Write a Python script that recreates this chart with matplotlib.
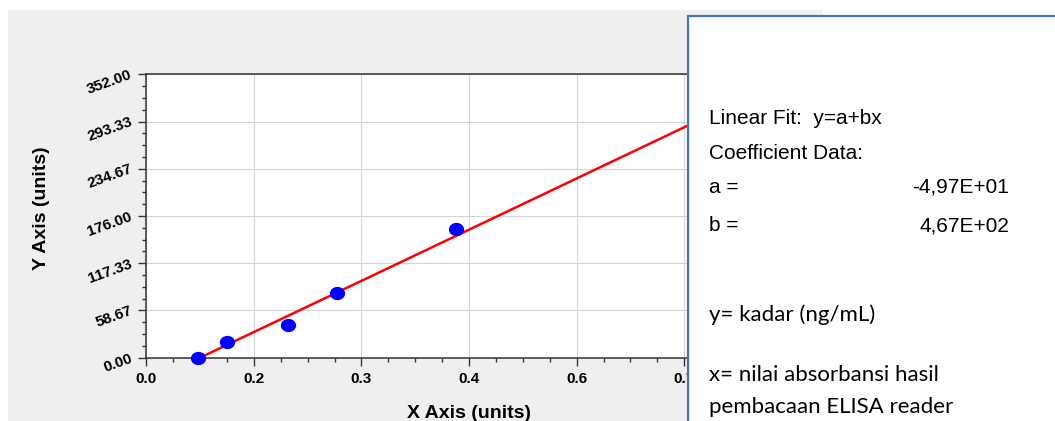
import matplotlib
matplotlib.use("Agg")
import matplotlib.pyplot as plt
import numpy as np
from matplotlib.patches import Rectangle
from matplotlib.path import Path
from matplotlib.transforms import Affine2D
from matplotlib.ticker import FixedLocator, FormatStrFormatter

plt.rcParams["font.family"] = ["Liberation Sans", "DejaVu Sans"]

# data (absorbansi vs kadar standar)
absorbance = [0.104, 0.140, 0.218, 0.280, 0.431]
kadar = [0, 20, 40, 80, 160]
fit_a = -49.7
fit_b = 467.0

x_min, x_step = 0.0384, 0.1362
y_max = 352.0

fit_lines = ["Linear Fit:  y=a+bx", "Coefficient Data:", "a =", "b ="]
fit_values = ["-4,97E+01", "4,67E+02"]
note_lines = ["y= kadar (ng/mL)", "x= nilai absorbansi hasil", "pembacaan ELISA reader"]

W, H = 1055, 421
fig = plt.figure(figsize=(W / 100, H / 100), dpi=100)
fig.patch.set_facecolor("white")


def fx(px):
    return px / W


def fy(py):
    return 1 - py / H


# panel abu-abu di belakang grafik
fig.add_artist(Rectangle((fx(8), 0), fx(822) - fx(8), fy(10), transform=fig.transFigure,
                         facecolor="#efefef", edgecolor="none", zorder=-1))

ax_l, ax_r, ax_t, ax_b = 146.3, 800, 74.3, 357.7
ax = fig.add_axes([fx(ax_l), fy(ax_b), fx(ax_r) - fx(ax_l), fy(ax_t) - fy(ax_b)])
ax.set_facecolor("white")
x_max = x_min + (ax_r - ax_l) / 790
ax.set_xlim(x_min, x_max)
ax.set_ylim(0, y_max)

# garis fit + titik data
xs = np.array([absorbance[0], x_max])
ax.plot(xs, fit_a + fit_b * xs, color="#ff0000", lw=1.8, zorder=3)
ellipse = Path.unit_circle().transformed(Affine2D().scale(1.17, 1.0))
ax.plot(absorbance, kadar, linestyle="none", marker=ellipse, ms=10,
        color="#0000ff", mec="#0000ff", zorder=4, clip_on=False)

# ticks
ax.xaxis.set_major_locator(FixedLocator(x_min + x_step * np.arange(6)))
ax.xaxis.set_minor_locator(FixedLocator(x_min + x_step / 4 * np.arange(28)))
ax.xaxis.set_major_formatter(FormatStrFormatter("%.1f"))
ax.yaxis.set_major_locator(FixedLocator(np.linspace(0, y_max, 7)))
ax.yaxis.set_minor_locator(FixedLocator(np.linspace(0, y_max, 25)))
ax.yaxis.set_major_formatter(FormatStrFormatter("%.2f"))

ax.tick_params(which="major", length=5.5, width=1, color="#333333", labelsize=11)
ax.tick_params(which="minor", length=3, width=1, color="#333333")
ax.tick_params(axis="x", which="major", pad=5)
ax.tick_params(axis="y", which="major", pad=5, labelrotation=20)
plt.setp(ax.get_xticklabels(), fontweight="bold")
plt.setp(ax.get_yticklabels(), fontweight="bold", rotation_mode="anchor", ha="right", va="center")

ax.grid(True, which="major", color="#d4d4d4", lw=0.8)
ax.set_axisbelow(True)
for side in ["left", "bottom", "top"]:
    ax.spines[side].set_color("#333333")
    ax.spines[side].set_linewidth(1.1)
ax.spines["right"].set_visible(False)

ax.set_xlabel("X Axis (units)", fontsize=14, fontweight="bold")
ax.xaxis.set_label_coords((469 - ax_l) / (ax_r - ax_l), (ax_b - 405) / (ax_b - ax_t))
ax.set_ylabel("Y Axis (units)", fontsize=14, fontweight="bold")
ax.yaxis.set_label_coords((50 - ax_l) / (ax_r - ax_l), (ax_b - 208) / (ax_b - ax_t))

# kotak keterangan
fig.add_artist(Rectangle((fx(687.7), fy(440)), fx(1070) - fx(687.7), fy(16) - fy(440),
                         transform=fig.transFigure, facecolor="white",
                         edgecolor="#4472c4", lw=1.6, zorder=5))
for txt, py in zip(fit_lines, [124, 159.3, 192.7, 231]):
    fig.text(fx(709), fy(py), txt, fontsize=15, va="baseline", ha="left", zorder=6)
for txt, px, py in zip(fit_values, [912.3, 919.3], [192.7, 231]):
    fig.text(fx(px), fy(py), txt, fontsize=15, va="baseline", ha="left", zorder=6)
for txt, py in zip(note_lines, [320.7, 381, 413.3]):
    fig.text(fx(709), fy(py), txt, fontsize=16, family=["Lato", "DejaVu Sans"],
             va="baseline", ha="left", zorder=6)

fig.savefig("out.png", dpi=100)
plt.close(fig)
